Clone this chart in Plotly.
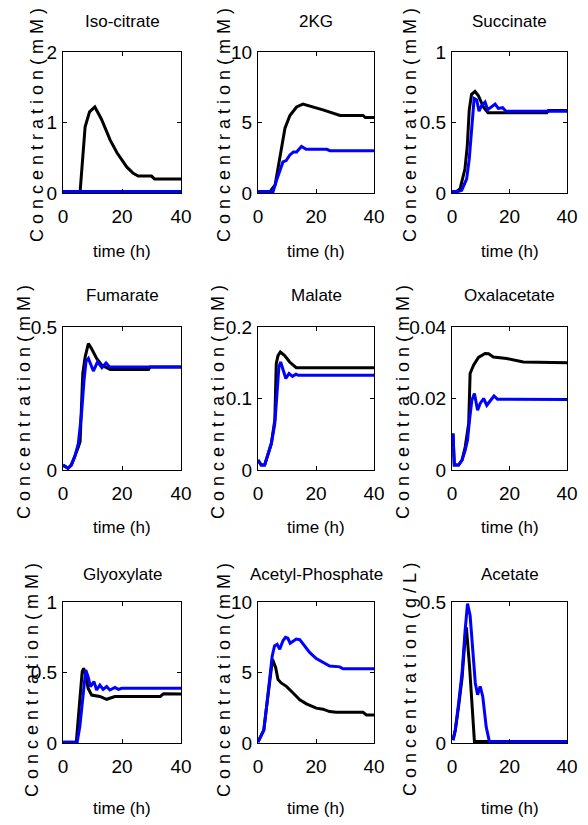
import plotly.graph_objects as go
from plotly.subplots import make_subplots

W, H = 588, 825
FONT = "Liberation Sans, Arial, sans-serif"

titles = ["Iso-citrate", "2KG", "Succinate", "Fumarate", "Malate", "Oxalacetate",
          "Glyoxylate", "Acetyl-Phosphate", "Acetate"]
ylabels = ["C o n c e n t r a t i o n ( m M )"] * 8 + ["C o n c e n t r a t i o n ( g / L )"]
xlabel = "time (h)"
x_ticks = [0, 20, 40]
y_ticks = [[0, 1, 2], [0, 5, 10], [0, 0.5, 1], [0, 0.5], [0, 0.1, 0.2], [0, 0.02, 0.04],
           [0, 0.5, 1], [0, 5, 10], [0, 0.5]]
y_ticktext = [["0", "1", "2"], ["0", "5", "10"], ["0", "0.5", "1"], ["0", "0.5"],
              ["0", "0.1", "0.2"], ["0", "0.02", "0.04"], ["0", "0.5", "1"],
              ["0", "5", "10"], ["0", "0.5"]]
y_max = [2, 10, 1, 0.5, 0.2, 0.04, 1, 10, 0.5]

# ---- data: (time, value) per series, black = series A, blue = series B ----
iso_t_k = [0, 5.8, 7.5, 9.0, 10.8, 13.0, 16, 18.3, 21.6, 23.8, 25.5, 30, 31, 40]
iso_v_k = [0.02, 0.02, 0.94, 1.15, 1.22, 1.05, 0.75, 0.57, 0.37, 0.28, 0.24, 0.24, 0.2, 0.2]
iso_t_b = [0, 40]
iso_v_b = [0.02, 0.02]

kg_t_k = [0, 4.1, 5.9, 7.6, 9.3, 11, 13.3, 15.5, 19, 22.4, 28.3, 36.2, 37, 40]
kg_v_k = [0.1, 0.1, 0.57, 2.6, 4.6, 5.5, 6.1, 6.3, 6.1, 5.9, 5.5, 5.5, 5.35, 5.35]
kg_t_b = [0, 5.2, 6.4, 7.6, 8.6, 9.7, 11, 12.2, 13.3, 15, 16.6, 23.7, 24.8, 40]
kg_v_b = [0.1, 0.1, 0.9, 1.6, 2.2, 2.3, 2.7, 2.9, 2.9, 3.3, 3.1, 3.1, 3.0, 3.0]

suc_t_k = [0, 1.5, 2.8, 4.5, 5.3, 6.0, 6.8, 8.0, 9.2, 10.9, 12.5, 33, 33.5, 40]
suc_v_k = [0.01, 0.01, 0.03, 0.17, 0.33, 0.59, 0.70, 0.72, 0.69, 0.61, 0.57, 0.57, 0.585, 0.585]
suc_t_b = [0, 2.0, 3.4, 5.1, 6.0, 6.8, 7.7, 8.6, 9.4, 10.3, 11.5, 12.4, 13.8, 15, 16.1, 17.6, 18.8, 40]
suc_v_b = [0.01, 0.01, 0.02, 0.1, 0.24, 0.47, 0.67, 0.66, 0.58, 0.62, 0.645, 0.59, 0.61, 0.63, 0.60, 0.605, 0.58, 0.58]

fum_t_k = [0, 1.7, 2.8, 4.0, 5.2, 5.8, 6.7, 7.5, 8.6, 9.7, 11.4, 13.2, 16, 29, 29.5, 40]
fum_v_k = [0.017, 0.006, 0.017, 0.046, 0.08, 0.1, 0.337, 0.395, 0.442, 0.424, 0.39, 0.366, 0.351, 0.351, 0.36, 0.36]
fum_t_b = [0, 1.7, 2.8, 4.0, 5.2, 6.3, 7.1, 7.8, 8.6, 9.4, 10.3, 11.7, 13.2, 14.6, 15.8, 40]
fum_v_b = [0.017, 0.006, 0.017, 0.046, 0.093, 0.2, 0.31, 0.38, 0.39, 0.366, 0.346, 0.378, 0.358, 0.374, 0.36, 0.36]

mal_t_k = [0, 1.1, 2.3, 3.4, 4.6, 5.8, 6.3, 6.9, 7.7, 9.2, 10.9, 13.2, 40]
mal_v_k = [0.014, 0.007, 0.007, 0.023, 0.037, 0.07, 0.149, 0.160, 0.165, 0.16, 0.151, 0.143, 0.143]
mal_t_b = [0, 1.1, 2.3, 3.4, 4.6, 5.8, 6.6, 7.2, 7.8, 8.7, 9.6, 10.7, 11.9, 13.1, 13.9, 40]
mal_v_b = [0.014, 0.007, 0.007, 0.023, 0.037, 0.065, 0.107, 0.144, 0.151, 0.14, 0.128, 0.135, 0.131, 0.134, 0.1325, 0.1325]

oxa_t_k = [0.35, 0.8, 2.3, 3.5, 4.6, 5.8, 6.3, 7.5, 9.2, 11.5, 12.7, 14.4, 19, 24.8, 40]
oxa_v_k = [0.0102, 0.0014, 0.0014, 0.0028, 0.0065, 0.013, 0.027, 0.0293, 0.0315, 0.0326, 0.0325, 0.0316, 0.0312, 0.0302, 0.030]
oxa_t_b = [0.35, 0.8, 2.3, 3.5, 4.6, 5.4, 6.1, 6.9, 7.8, 8.9, 9.8, 11, 12.1, 13.3, 14.6, 15.8, 40]
oxa_v_b = [0.0102, 0.0014, 0.0014, 0.0028, 0.0056, 0.0084, 0.014, 0.0195, 0.0214, 0.0167, 0.0186, 0.020, 0.0181, 0.0195, 0.0207, 0.0198, 0.0197]

gly_t_k = [0, 4.5, 5.7, 6.5, 7.0, 7.7, 8.5, 9.7, 12.5, 14.8, 17.6, 33, 34.1, 40]
gly_v_k = [0.005, 0.005, 0.306, 0.505, 0.53, 0.48, 0.388, 0.34, 0.33, 0.31, 0.33, 0.33, 0.35, 0.348]
gly_t_b = [0, 4.8, 5.7, 6.8, 7.7, 8.5, 9.3, 10.5, 11.4, 12.5, 13.6, 14.8, 15.9, 17.6, 18.8, 19.9, 40]
gly_v_b = [0.005, 0.005, 0.117, 0.365, 0.517, 0.47, 0.40, 0.435, 0.376, 0.411, 0.38, 0.40, 0.376, 0.394, 0.38, 0.388, 0.388]

acp_t_k = [0, 1.1, 2.0, 3.1, 4.0, 5.0, 6.1, 6.9, 8.0, 9.8, 12.1, 14.4, 16.7, 20.1, 22.4, 24.7, 27, 36.2, 37.4, 40]
acp_v_k = [0.07, 0.55, 0.91, 2.8, 4.4, 5.94, 5.34, 4.5, 4.26, 4.02, 3.55, 3.07, 2.78, 2.47, 2.4, 2.23, 2.18, 2.18, 1.99, 1.99]
acp_t_b = [0, 1.1, 2.0, 3.1, 4.0, 4.9, 5.7, 6.6, 7.5, 8.6, 9.5, 10.3, 11.1, 12.1, 13.2, 14.4, 16.1, 17.8, 20.1, 22.4, 24.7, 28.2, 29.3, 40]
acp_v_b = [0.07, 0.55, 0.91, 2.83, 4.5, 6.17, 6.89, 7.0, 6.65, 7.25, 7.49, 7.43, 7.08, 7.25, 7.37, 7.33, 6.89, 6.42, 5.99, 5.7, 5.46, 5.4, 5.27, 5.27]

ace_t_k = [0.35, 1.15, 2.3, 3.5, 4.6, 5.0, 6.1, 7.3, 7.8, 40]
ace_v_k = [0.01, 0.046, 0.13, 0.23, 0.38, 0.41, 0.273, 0.07, 0.005, 0.005]
ace_t_b = [0.35, 1.15, 2.3, 3.5, 4.6, 5.4, 6.3, 7.3, 8.1, 8.9, 9.8, 10.7, 11.9, 13.0, 40]
ace_v_b = [0.01, 0.046, 0.141, 0.249, 0.404, 0.494, 0.452, 0.333, 0.213, 0.171, 0.201, 0.165, 0.057, 0.005, 0.005]

series = [
    (iso_t_k, iso_v_k, iso_t_b, iso_v_b),
    (kg_t_k, kg_v_k, kg_t_b, kg_v_b),
    (suc_t_k, suc_v_k, suc_t_b, suc_v_b),
    (fum_t_k, fum_v_k, fum_t_b, fum_v_b),
    (mal_t_k, mal_v_k, mal_t_b, mal_v_b),
    (oxa_t_k, oxa_v_k, oxa_t_b, oxa_v_b),
    (gly_t_k, gly_v_k, gly_t_b, gly_v_b),
    (acp_t_k, acp_v_k, acp_t_b, acp_v_b),
    (ace_t_k, ace_v_k, ace_t_b, ace_v_b),
]

# ---- layout geometry (pixels) ----
col_px = [(63, 181), (258, 374), (452, 567)]
row_px = [(52, 193), (327, 470), (602, 743)]
title_y = [22, 295, 574]
xlab_y = [252, 527, 808]
ylab_x = [[37, 224, 410], [24, 218, 403], [32, 224, 410]]
ylab_y = [125, 402, 680]

fig = make_subplots(rows=3, cols=3)
annotations = []
for i in range(9):
    r, c = divmod(i, 3)
    tk, vk, tb, vb = series[i]
    fig.add_trace(go.Scatter(x=tk, y=vk, mode="lines", line=dict(color="black", width=3),
                             showlegend=False), row=r + 1, col=c + 1)
    fig.add_trace(go.Scatter(x=tb, y=vb, mode="lines", line=dict(color="#0000FF", width=3),
                             showlegend=False), row=r + 1, col=c + 1)
    x0, x1 = col_px[c]
    y0, y1 = row_px[r]
    ax = "" if i == 0 else str(i + 1)
    fig.layout["xaxis" + ax].update(
        domain=[x0 / W, x1 / W], range=[0, 40], tickvals=x_ticks, automargin=False,
        ticktext=[str(v) for v in x_ticks], ticks="inside", ticklen=4, tickcolor="black",
        showline=True, linecolor="black", linewidth=1, mirror="ticks", showgrid=False,
        zeroline=False, tickfont=dict(family=FONT, size=19, color="black"),
        ticklabelstandoff=6)
    fig.layout["yaxis" + ax].update(
        domain=[1 - y1 / H, 1 - y0 / H], range=[0, y_max[i]], tickvals=y_ticks[i],
        ticktext=y_ticktext[i], ticks="inside", ticklen=4, tickcolor="black", automargin=False,
        showline=True, linecolor="black", linewidth=1, mirror="ticks", showgrid=False,
        zeroline=False, tickfont=dict(family=FONT, size=19, color="black"),
        ticklabelstandoff=1)
    cx = (x0 + x1) / 2 / W
    annotations.append(dict(text=titles[i], x=cx, y=1 - title_y[r] / H, xref="paper", yref="paper",
                            xanchor="center", yanchor="middle", showarrow=False,
                            font=dict(family=FONT, size=17, color="black")))
    annotations.append(dict(text=xlabel, x=cx, y=1 - xlab_y[r] / H, xref="paper", yref="paper",
                            xanchor="center", yanchor="middle", showarrow=False,
                            font=dict(family=FONT, size=17, color="black")))
    annotations.append(dict(text=ylabels[i], x=ylab_x[r][c] / W, y=1 - ylab_y[r] / H,
                            xref="paper", yref="paper", xanchor="center", yanchor="middle",
                            textangle=-90, showarrow=False,
                            font=dict(family=FONT, size=18, color="black")))

fig.update_layout(width=W, height=H, margin=dict(l=0, r=0, t=0, b=0, autoexpand=False),
                  paper_bgcolor="white", plot_bgcolor="white",
                  annotations=annotations, showlegend=False)
fig.write_html("out.html")
